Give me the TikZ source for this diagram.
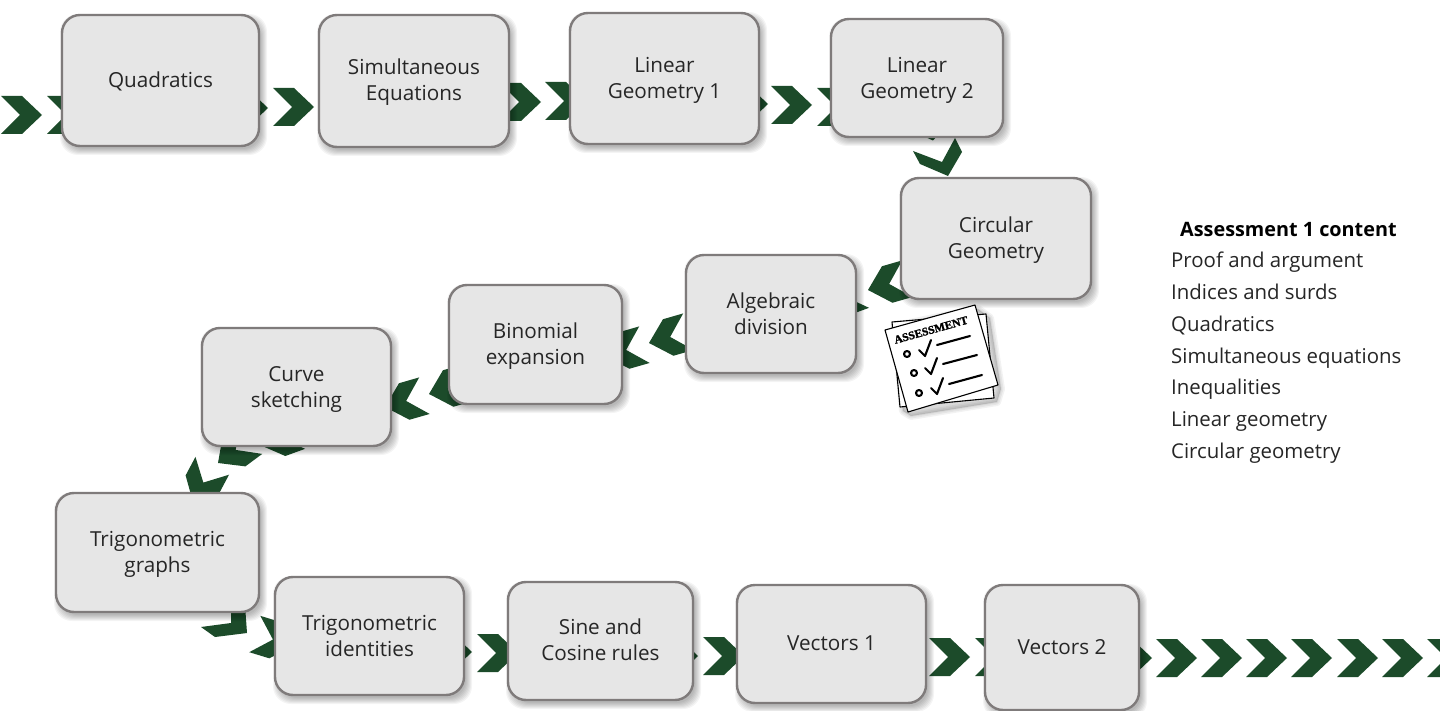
\documentclass[tikz,border=0pt]{standalone}
\usepackage{fontspec}
\setmainfont{Open Sans}
\newfontfamily\stampfont[BoldFeatures={FakeBold=1.6}]{Liberation Serif}
\definecolor{chevgreen}{HTML}{1C4B2A}
\definecolor{boxfill}{HTML}{E6E6E6}
\definecolor{boxline}{HTML}{7F7B7B}
\definecolor{inktext}{HTML}{262626}
\tikzset{
  chevshape/.style={fill=chevgreen,draw=none},
  stepbox/.style={draw=boxline,fill=boxfill,line width=2.4pt,rounded corners=18pt,inner sep=0pt,outer sep=0pt,align=center,text=inktext,font=\fontsize{20.7}{26}\selectfont},
  softshade/.style={fill=black,opacity=.045,draw=none,rounded corners=18pt},
  listtext/.style={anchor=base west,inner sep=0pt,text=inktext,font=\fontsize{20.4}{24}\selectfont},
  sheet/.style={fill=white,draw=black,line width=1.1pt,line join=round},
  sheetshade/.style={fill=black,draw=black,opacity=.05,line join=round},
  inkmark/.style={draw=black,line width=2.1pt,line cap=round,line join=round}
}
\newcommand{\chev}[3]{\fill[chevshape,shift={(#1,#2)},rotate=-#3] (-41,-19) -- (-20,-19) -- (0,0) -- (-20,19) -- (-41,19) -- (-22,0) -- cycle;}
\newcommand{\stepnode}[7]{%
  \foreach \e in {5,4,3,2,1,0,-1}{\fill[softshade] ({#2+3-\e},{#3+4-\e}) rectangle ({#4+3+\e},{#5+4+\e});}
  \pgfmathsetmacro{\bw}{#4-#2}\pgfmathsetmacro{\bh}{#5-#3}
  \pgfmathsetmacro{\cx}{(#4+#2)/2}\pgfmathsetmacro{\cy}{(#5+#3)/2}
  \node[stepbox,minimum width=\bw pt,minimum height=\bh pt] (#1) at (\cx,\cy) {\raisebox{\dimexpr-#7pt-5.2pt\relax}[0pt][0pt]{\begin{tabular}{@{}c@{}}#6\end{tabular}}};}
\begin{document}
\begin{tikzpicture}[x=1pt,y=-1pt]
\clip (0,0) rectangle (1440,711);
\fill[white] (0,0) rectangle (1440,711);
% chevrons, top row
\chev{42}{115}{0}\chev{88}{115}{0}\chev{268}{108}{0}\chev{314}{107}{0}
\chev{541}{102}{0}\chev{586}{101}{0}\chev{768}{104}{0}\chev{812}{105}{0}\chev{858}{107}{0}
% descending to circular geometry
\fill[chevshape] (923,136) -- (937,136) -- (933,140.5) -- cycle;
\fill[chevshape] (913,151) -- (942,162) -- (955,138) -- (962,152) -- (948,176) -- (920,164) -- cycle;
% middle row
\chev{868}{290}{164}\chev{824}{304}{160}\chev{649}{343}{164}\chev{605}{356}{164}
\chev{429}{394}{164}\chev{385}{407}{164}
% down to trigonometric graphs
\chev{260}{445}{160}\chev{218}{463}{143.5}\chev{193}{502}{118}
% to trigonometric identities
\fill[chevshape] (201,627) -- (231,623) -- (231,605) -- (245,605) -- (247,633) -- (215,637) -- cycle;
\chev{294}{646}{17}
% bottom row
\chev{472}{652}{0}\chev{518}{653}{0}\chev{698}{656}{0}\chev{744}{656}{0}
\chev{970}{657}{0}\chev{1016}{657}{0}
\foreach \t in {1152,1197,1242,1287,1332,1378,1423,1468}{\chev{\t}{658}{0}}
% boxes
\stepnode{quad}{62}{15}{259}{146}{Quadratics}{2}
\stepnode{simul}{319}{15}{509}{147}{Simultaneous\\Equations}{1}
\stepnode{lin1}{570}{13}{759}{144}{Linear\\Geometry 1}{2}
\stepnode{lin2}{831}{19}{1003}{137}{Linear\\Geometry 2}{2}
\stepnode{circ}{901}{178}{1091}{299}{Circular\\Geometry}{2}
\stepnode{alg}{686}{255}{856}{373}{Algebraic\\division}{2}
\stepnode{bin}{449}{285}{622}{404}{Binomial\\expansion}{2}
\stepnode{curve}{202}{328}{391}{446}{Curve\\sketching}{2}
\stepnode{trigg}{56}{493}{259}{612}{Trigonometric\\graphs}{2}
\stepnode{trigi}{275}{577}{464}{695}{Trigonometric\\identities}{2}
\stepnode{sine}{508}{582}{693}{700}{Sine and\\Cosine rules}{1}
\stepnode{vec1}{737}{585}{926}{703}{Vectors 1}{1}
\stepnode{vec2}{985}{585}{1139}{710}{Vectors 2}{2}
% assessment icon
\foreach \w in {8,5,2}{\path[sheetshade,line width=\w pt] (895,326) -- (978,309) -- (990,318) -- (1001,389) -- (997,402) -- (911,416) -- (903,411) -- cycle;}
\path[sheet] (892,322) -- (986,314) -- (994,398) -- (900,407) -- cycle;
\path[sheet] (885,330) -- (975,305) -- (998,385) -- (908,412) -- cycle;
\node[rotate=15.6,inner sep=0pt,font=\stampfont\bfseries\fontsize{11.5}{12}\selectfont] (stamp) at (931,330) {ASSESSMENT};
\draw[inkmark] (907,354) circle (3pt);
\draw[inkmark] (914,373) circle (3pt);
\draw[inkmark] (919,393) circle (3pt);
\draw[inkmark] (919,350) -- (925,356) -- (931,340);
\draw[inkmark] (925,368) -- (931,374) -- (937,358);
\draw[inkmark] (931,388) -- (937,394) -- (943,378);
\draw[inkmark] (937,345) -- (970,336);
\draw[inkmark] (943,364) -- (977,355);
\draw[inkmark] (949,384) -- (982,375);
% list
\node[listtext,text=black,font=\bfseries\fontsize{19.8}{24}\selectfont] (listhead) at (1180,237) {Assessment 1 content};
\node[listtext] (l1) at (1171,268) {Proof and argument};
\node[listtext] (l2) at (1171,299) {Indices and surds};
\node[listtext] (l3) at (1171,331) {Quadratics};
\node[listtext] (l4) at (1171,363) {Simultaneous equations};
\node[listtext] (l5) at (1171,394) {Inequalities};
\node[listtext] (l6) at (1171,426) {Linear geometry};
\node[listtext] (l7) at (1171,458) {Circular geometry};
\end{tikzpicture}
\end{document}
